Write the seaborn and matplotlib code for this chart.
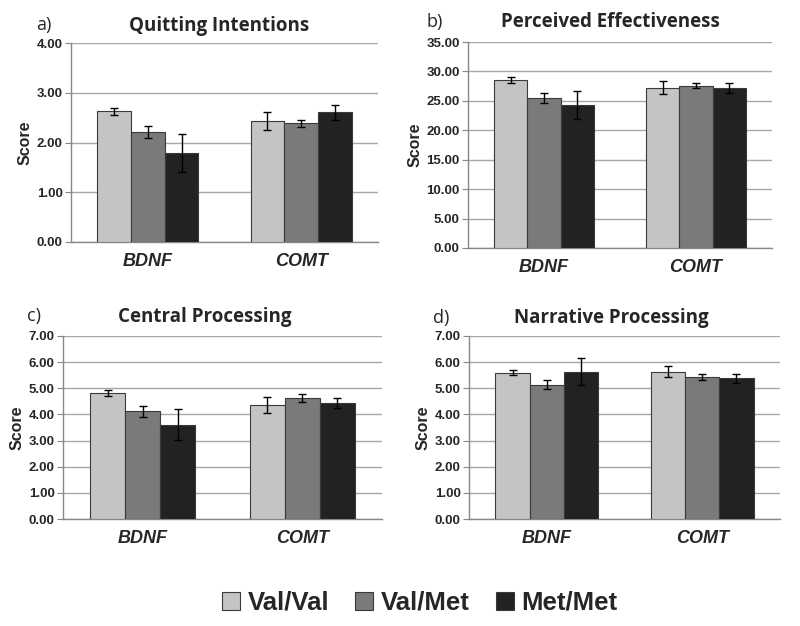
import numpy as np
import matplotlib
matplotlib.use("Agg")
import matplotlib.pyplot as plt
import seaborn as sns
import pandas as pd
from matplotlib.patches import Patch

genes = ["BDNF", "COMT"]
genotypes = ["Val/Val", "Val/Met", "Met/Met"]
colors = ["#c4c4c4", "#7a7a7a", "#222222"]

# means per gene, order: Val/Val, Val/Met, Met/Met
qi_bdnf = [2.63, 2.21, 1.79]
qi_comt = [2.44, 2.39, 2.61]
qi_err_bdnf = [0.07, 0.12, 0.38]
qi_err_comt = [0.18, 0.07, 0.15]

pe_bdnf = [28.6, 25.5, 24.3]
pe_comt = [27.2, 27.6, 27.2]
pe_err_bdnf = [0.5, 0.8, 2.3]
pe_err_comt = [1.1, 0.5, 0.9]

cp_bdnf = [4.83, 4.12, 3.61]
cp_comt = [4.36, 4.63, 4.45]
cp_err_bdnf = [0.12, 0.22, 0.60]
cp_err_comt = [0.32, 0.15, 0.19]

np_bdnf = [5.59, 5.14, 5.63]
np_comt = [5.64, 5.42, 5.38]
np_err_bdnf = [0.10, 0.18, 0.52]
np_err_comt = [0.22, 0.12, 0.18]

panels = [
    ("a)", "Quitting Intentions", qi_bdnf, qi_comt, qi_err_bdnf, qi_err_comt, 4, 1),
    ("b)", "Perceived Effectiveness", pe_bdnf, pe_comt, pe_err_bdnf, pe_err_comt, 35, 5),
    ("c)", "Central Processing", cp_bdnf, cp_comt, cp_err_bdnf, cp_err_comt, 7, 1),
    ("d)", "Narrative Processing", np_bdnf, np_comt, np_err_bdnf, np_err_comt, 7, 1),
]

W, H = 800, 626
# axes boxes in pixels: left, top, right, bottom
boxes = [(71, 43, 378, 242), (468, 42, 772, 248), (63, 336, 382, 519), (469, 336, 780, 519)]
# title centres and panel label positions in pixels
title_pos = [(219, 26), (610, 22), (205, 317), (611, 318)]
label_pos = [(36, 25), (427, 22), (27, 316), (433, 318)]

sns.set_style("white")
plt.rcParams['font.family'] = ['Liberation Sans', 'DejaVu Sans']

fig = plt.figure(figsize=(8, 6.26), dpi=100)

for (lab, title, vb, vc, eb, ec, ymax, step), box, tp, lp in zip(panels, boxes, title_pos, label_pos):
    l, t, r, b = box
    ax = fig.add_axes([l / W, 1 - b / H, (r - l) / W, (b - t) / H])
    df = pd.DataFrame({
        "gene": [g for g in genes for _ in genotypes],
        "genotype": genotypes * 2,
        "score": vb + vc,
    })
    errs = {("BDNF", g): e for g, e in zip(genotypes, eb)}
    errs.update({("COMT", g): e for g, e in zip(genotypes, ec)})
    sns.barplot(data=df, x="gene", y="score", hue="genotype", order=genes,
                hue_order=genotypes, palette=colors, saturation=1, width=0.66,
                errorbar=None, edgecolor="#3a3a3a", linewidth=0.8, legend=False,
                ax=ax, zorder=3)
    for g, cont in zip(genotypes, ax.containers):
        for gene, bar in zip(genes, cont):
            x = bar.get_x() + bar.get_width() / 2
            ax.errorbar(x, bar.get_height(), yerr=errs[(gene, g)], color="black",
                        capsize=3, elinewidth=1, capthick=1, zorder=4)
    ax.set_xlim(-0.5, 1.5)
    ax.set_ylim(0, ymax)
    ax.set_yticks(np.arange(0, ymax + step / 2, step))
    ax.set_yticklabels([f"{v:.2f}" for v in np.arange(0, ymax + step / 2, step)],
                       fontsize=9.5, fontweight="bold")
    ax.set_xticks([0, 1])
    ax.set_xticklabels(genes, fontsize=13, fontweight="bold", style="italic")
    ax.set_xticks([-0.5, 0.5, 1.5], minor=True)
    ax.tick_params(axis="x", which="major", length=0, pad=8)
    ax.tick_params(axis="x", which="minor", length=4, color="#888888", direction="out")
    ax.tick_params(axis="y", length=4, color="#888888", direction="out", pad=2, left=True)
    ax.yaxis.grid(True, color="#a8a8a8", linewidth=1, zorder=0)
    ax.set_axisbelow(True)
    for s in ["top", "right"]:
        ax.spines[s].set_visible(False)
    for s in ["left", "bottom"]:
        ax.spines[s].set_color("#888888")
        ax.spines[s].set_linewidth(1)
    ax.set_xlabel("")
    ax.set_ylabel("Score", fontsize=11.5, fontweight="bold", labelpad=3)
    fig.text(tp[0] / W, 1 - tp[1] / H, title, fontsize=13.5, fontweight="bold",
             ha="center", va="center", family=["Open Sans", "DejaVu Sans"])
    fig.text(lp[0] / W, 1 - lp[1] / H, lab, fontsize=13, ha="left", va="center",
             family=["Open Sans", "DejaVu Sans"])

handles = [Patch(facecolor=c, edgecolor="#3a3a3a", linewidth=0.8) for c in colors]
fig.legend(handles, genotypes, loc="center", bbox_to_anchor=(420 / W, 1 - 603 / H),
           ncol=3, frameon=False, prop={"size": 18.5, "weight": "bold"},
           handlelength=0.7, handleheight=0.7, handletextpad=0.3, columnspacing=1.0)

fig.savefig("out.png", dpi=100)
